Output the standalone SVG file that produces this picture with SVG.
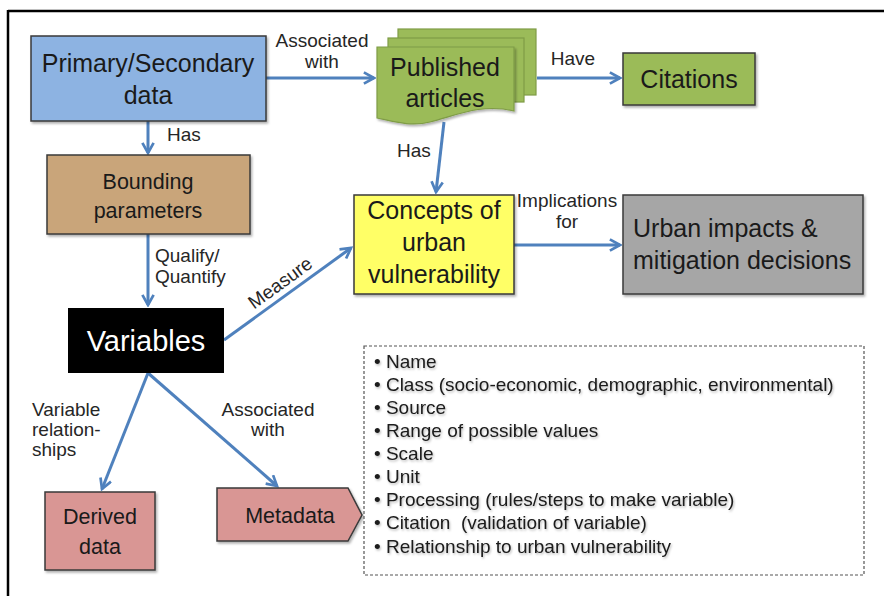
<svg xmlns="http://www.w3.org/2000/svg" width="884" height="596" viewBox="0 0 884 596">
<defs>
<marker id="arr" viewBox="0 0 12 12" refX="10" refY="6" markerWidth="4.5" markerHeight="4.5" markerUnits="strokeWidth" orient="auto">
<path d="M1,1 L10,6 L1,11" fill="none" stroke="#4f81bd" stroke-width="2.4" stroke-linejoin="miter"/>
</marker>
<filter id="sh" x="-10%" y="-10%" width="130%" height="140%">
<feDropShadow dx="1.5" dy="2" stdDeviation="1.2" flood-color="#000" flood-opacity="0.3"/>
</filter>
<filter id="tsh" x="-5%" y="-20%" width="110%" height="150%">
<feDropShadow dx="1" dy="1.5" stdDeviation="0.8" flood-color="#000" flood-opacity="0.28"/>
</filter>
</defs>
<style>
text{font-family:"Liberation Sans",Arial,sans-serif;fill:#1a1a1a}
.c{text-anchor:middle}
.big{font-size:25px}
.mid{font-size:21.5px}
.lbl{font-size:19px;fill:#262626}
.list{font-size:19px}
.box{stroke:#3a3a3a;stroke-width:1.5}
.con{fill:none;stroke:#4f81bd;stroke-width:3;marker-end:url(#arr)}
</style>
<rect width="884" height="596" fill="#fff"/>
<g id="frame">
<line x1="8" y1="11" x2="884" y2="11" stroke="#000" stroke-width="2.5"/>
<line x1="8" y1="10" x2="8" y2="596" stroke="#000" stroke-width="2.5"/>
</g>
<g id="connectors">
<line class="con" x1="266" y1="78" x2="374" y2="78"/>
<line class="con" x1="537" y1="78" x2="620" y2="78"/>
<line class="con" x1="148" y1="121" x2="148" y2="153"/>
<line class="con" x1="444" y1="122" x2="436" y2="192"/>
<line class="con" x1="148" y1="234" x2="148" y2="305"/>
<line class="con" x1="224" y1="340" x2="351" y2="248"/>
<line class="con" x1="514" y1="245" x2="620" y2="245"/>
<line class="con" x1="148" y1="373" x2="102" y2="489"/>
<line class="con" x1="148" y1="373" x2="277" y2="486"/>
<text class="lbl" x="322" y="47" text-anchor="middle">Associated</text>
<text class="lbl" x="322" y="68" text-anchor="middle">with</text>
<text class="lbl" x="573" y="65" text-anchor="middle">Have</text>
<text class="lbl" x="167" y="141">Has</text>
<text class="lbl" x="397" y="157">Has</text>
<text class="lbl" x="155" y="262">Qualify/</text>
<text class="lbl" x="155" y="283">Quantify</text>
<text class="lbl" x="284" y="288" text-anchor="middle" transform="rotate(-36 284 288)">Measure</text>
<text class="lbl" x="567" y="207" text-anchor="middle">Implications</text>
<text class="lbl" x="567" y="228" text-anchor="middle">for</text>
<text class="lbl" x="32" y="416">Variable</text>
<text class="lbl" x="32" y="436">relation-</text>
<text class="lbl" x="32" y="456">ships</text>
<text class="lbl" x="268" y="416" text-anchor="middle">Associated</text>
<text class="lbl" x="268" y="436" text-anchor="middle">with</text>
</g>
<g id="primary">
<rect class="box" x="31" y="36" width="235" height="85" fill="#8db3e2" filter="url(#sh)"/>
<text class="big c" x="148" y="72">Primary/Secondary</text>
<text class="big c" x="148" y="104">data</text>
</g>
<g id="published">
<rect x="398" y="29" width="138" height="66" fill="#9bbb59" stroke="#7f9c46" stroke-width="1.2"/>
<rect x="388" y="38" width="136" height="64" fill="#9bbb59" stroke="#7f9c46" stroke-width="1.2"/>
<path d="M377,47 H514 V111 C480,103 455,116 430,122 C410,127 392,121 377,118 Z" fill="#9bbb59" stroke="#7f9c46" stroke-width="1.2" filter="url(#sh)"/>
<text class="big c" x="445" y="76">Published</text>
<text class="big c" x="445" y="107">articles</text>
</g>
<g id="citations">
<rect class="box" x="623" y="53" width="132" height="52" fill="#9bbb59" filter="url(#sh)"/>
<text class="big c" x="689" y="88">Citations</text>
</g>
<g id="bounding">
<rect class="box" x="47" y="155" width="203" height="79" fill="#c9a57a" filter="url(#sh)"/>
<text class="mid c" x="148" y="189">Bounding</text>
<text class="mid c" x="148" y="218">parameters</text>
</g>
<g id="concepts">
<rect class="box" x="354" y="195" width="160" height="99" fill="#ffff66" filter="url(#sh)"/>
<text class="big c" x="434" y="219">Concepts of</text>
<text class="big c" x="434" y="251">urban</text>
<text class="big c" x="434" y="283">vulnerability</text>
</g>
<g id="urban">
<rect class="box" x="623" y="195" width="240" height="99" fill="#a6a6a6" filter="url(#sh)"/>
<text class="big" x="633" y="237">Urban impacts &amp;</text>
<text class="big" x="633" y="269">mitigation decisions</text>
</g>
<g id="variables">
<rect x="68" y="308" width="156" height="65" fill="#000"/>
<text class="c" x="146" y="351" style="font-size:29px;fill:#fff">Variables</text>
</g>
<g id="derived">
<rect class="box" x="45" y="492" width="110" height="78" fill="#d99694" filter="url(#sh)"/>
<text class="mid c" x="100" y="524">Derived</text>
<text class="mid c" x="100" y="554">data</text>
</g>
<g id="metadata">
<path class="box" d="M217,488 H348 L362,515 L348,541 H217 Z" fill="#d99694" filter="url(#sh)"/>
<text class="mid c" x="290" y="523">Metadata</text>
</g>
<g id="metalist">
<rect x="364" y="346" width="500" height="229" fill="#fff" stroke="#555" stroke-width="1.2" stroke-dasharray="3,2"/>
<text class="list" filter="url(#tsh)">
<tspan x="374" y="368">• Name</tspan>
<tspan x="374" y="391">• Class (socio-economic, demographic, environmental)</tspan>
<tspan x="374" y="414">• Source</tspan>
<tspan x="374" y="437">• Range of possible values</tspan>
<tspan x="374" y="460">• Scale</tspan>
<tspan x="374" y="483">• Unit</tspan>
<tspan x="374" y="506">• Processing (rules/steps to make variable)</tspan>
<tspan x="374" y="529">• Citation&#160; (validation of variable)</tspan>
<tspan x="374" y="553">• Relationship to urban vulnerability</tspan>
</text>
</g>
</svg>
